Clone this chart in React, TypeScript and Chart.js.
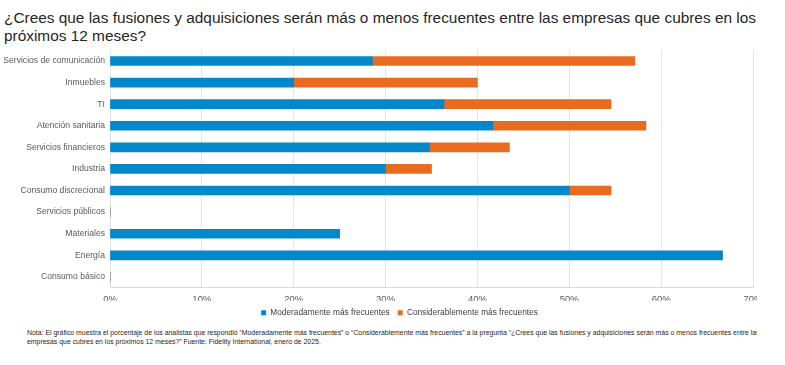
import React, { useEffect, useRef } from "react";
import { Chart, registerables } from "chart.js";

Chart.register(...registerables);

const categories = [
  "Servicios de comunicación",
  "Inmuebles",
  "TI",
  "Atención sanitaria",
  "Servicios financieros",
  "Industria",
  "Consumo discrecional",
  "Servicios públicos",
  "Materiales",
  "Energía",
  "Consumo básico",
];
const moderate = [28.57, 20, 36.36, 41.67, 34.78, 30, 50, 0, 25, 66.67, 0];
const considerable = [28.57, 20, 18.18, 16.67, 8.7, 5, 4.55, 0, 0, 0, 0];
const seriesNames = ["Moderadamente más frecuentes", "Considerablemente más frecuentes"];
const xTicks = [0, 10, 20, 30, 40, 50, 60, 70];

const titleLines = [
  "¿Crees que las fusiones y adquisiciones serán más o menos frecuentes entre las empresas que cubres en los",
  "próximos 12 meses?",
];
const noteLines = [
  "Nota: El gráfico muestra el porcentaje de los analistas que respondió “Moderadamente más frecuentes” o “Considerablemente más frecuentes” a la pregunta “¿Crees que las fusiones y adquisiciones serán más o menos frecuentes entre las",
  "empresas que cubres en los próximos 12 meses?” Fuente: Fidelity International, enero de 2025.",
];

const CANVAS_W = 800;
const CANVAS_H = 287;
const CANVAS_TOP = 40;
const PLOT_LEFT = 110;
const PLOT_RIGHT = 753;
const LEGEND_SHIFT = 23;
const FONT = "'Liberation Sans', Arial, sans-serif";

const legendShift = {
  id: "legendShift",
  afterLayout(chart: any) {
    if (chart.legend) {
      chart.legend.left += LEGEND_SHIFT;
      chart.legend.right += LEGEND_SHIFT;
    }
  },
};

export default function App() {
  const ref = useRef<HTMLCanvasElement>(null);
  useEffect(() => {
    if (!ref.current) return;
    const chart = new Chart(ref.current, {
      type: "bar",
      data: {
        labels: categories,
        datasets: [
          { label: seriesNames[0], data: moderate, backgroundColor: "#0088CB", barThickness: 9 },
          { label: seriesNames[1], data: considerable, backgroundColor: "#E96B1F", barThickness: 9 },
        ],
      },
      plugins: [legendShift],
      options: {
        indexAxis: "y",
        animation: false,
        responsive: false,
        maintainAspectRatio: false,
        layout: { padding: { left: 0, right: CANVAS_W - PLOT_RIGHT, top: 9, bottom: 0 } },
        plugins: {
          title: { display: false },
          tooltip: { enabled: false },
          legend: {
            position: "bottom",
            labels: {
              boxWidth: 5,
              boxHeight: 5,
              padding: 8,
              color: "#404040",
              font: { family: FONT, size: 8.3 },
            },
          },
        },
        scales: {
          x: {
            stacked: true,
            min: 0,
            max: 70,
            afterBuildTicks: (s: any) => {
              s.ticks = xTicks.map((v) => ({ value: v }));
            },
            afterFit: (s: any) => {
              s.height = 13;
            },
            ticks: {
              callback: (v: any) => v + "%",
              color: "#595959",
              padding: 6,
              font: { family: FONT, size: 9.5 },
            },
            grid: { color: "#E4E4E4", drawTicks: false },
            border: { color: "#D9D9D9" },
          },
          y: {
            stacked: true,
            afterFit: (s: any) => {
              s.width = PLOT_LEFT;
            },
            ticks: {
              color: "#595959",
              padding: 5,
              autoSkip: false,
              font: { family: FONT, size: 8.6 },
            },
            grid: { display: false, drawTicks: false },
            border: { color: "#E4E4E4" },
          },
        },
      },
    });
    return () => chart.destroy();
  }, []);

  return (
    <div
      style={{
        position: "absolute",
        left: 0,
        top: 0,
        width: 785,
        height: 365,
        overflow: "hidden",
        background: "#fff",
        fontFamily: FONT,
      }}
    >
      <div
        style={{
          position: "absolute",
          left: 4,
          top: 9,
          fontSize: 15.4,
          lineHeight: "18px",
          color: "#262626",
          whiteSpace: "nowrap",
        }}
      >
        {titleLines.map((l, i) => (
          <div key={i}>{l}</div>
        ))}
      </div>
      <div
        style={{
          position: "absolute",
          left: 0,
          top: CANVAS_TOP,
          width: 757,
          height: CANVAS_H,
          overflow: "hidden",
        }}
      >
        <canvas
          ref={ref}
          width={CANVAS_W}
          height={CANVAS_H}
          style={{ display: "block", width: CANVAS_W, height: CANVAS_H }}
        />
      </div>
      <div
        style={{
          position: "absolute",
          left: 0,
          top: 328,
          width: 757,
          height: 22,
          overflow: "hidden",
        }}
      >
        <div
          style={{
            position: "absolute",
            left: 27,
            top: 0,
            fontSize: 7.5,
            lineHeight: "9px",
            color: "#262626",
            whiteSpace: "nowrap",
            transform: "scaleX(0.92)",
            transformOrigin: "left top",
          }}
        >
          {noteLines.map((l, i) => (
            <div key={i}>{l}</div>
          ))}
        </div>
      </div>
    </div>
  );
}
